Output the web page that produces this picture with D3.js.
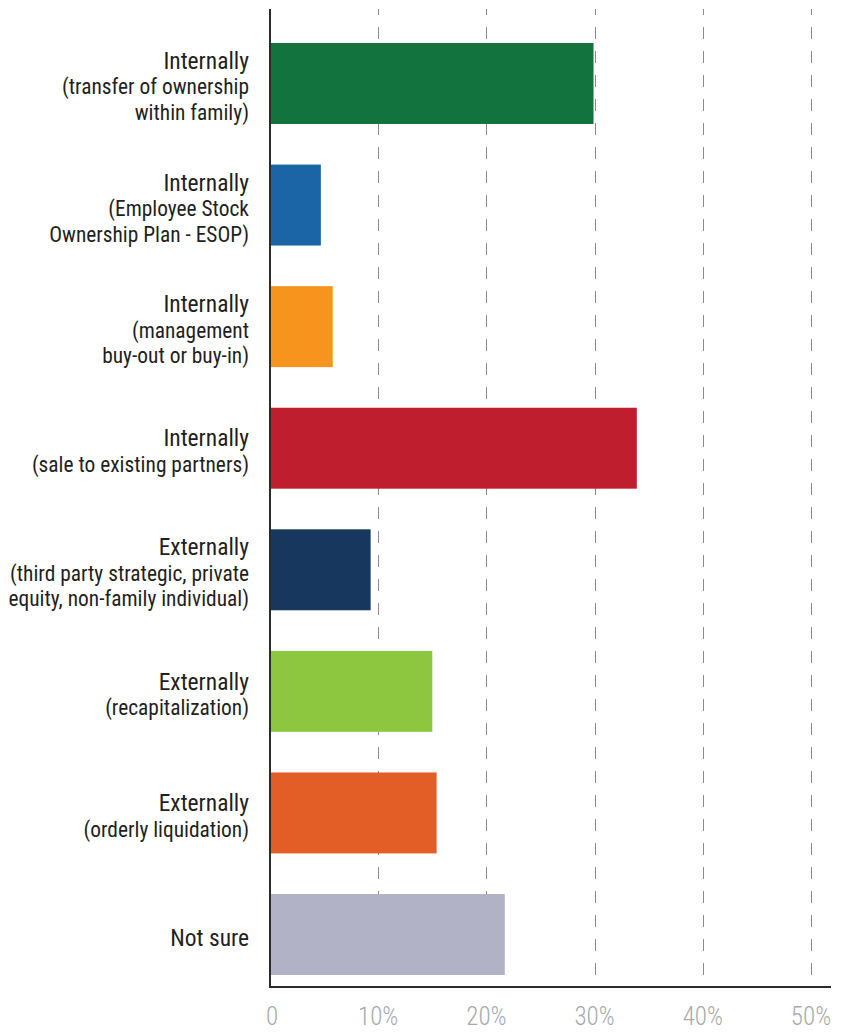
<!DOCTYPE html>
<html>
<head>
<meta charset="utf-8">
<script src="https://cdn.jsdelivr.net/npm/d3@7"></script>
<style>
  body { margin: 0; background: #fff; }
  svg text { font-family: "Roboto Condensed", "Roboto", sans-serif; }
</style>
</head>
<body>
<div id="chart"></div>
<script>
// categories (one entry per line of the label)
const labels = [
  ["Internally", "(transfer of ownership", "within family)"],
  ["Internally", "(Employee Stock", "Ownership Plan - ESOP)"],
  ["Internally", "(management", "buy-out or buy-in)"],
  ["Internally", "(sale to existing partners)"],
  ["Externally", "(third party strategic, private", "equity, non-family individual)"],
  ["Externally", "(recapitalization)"],
  ["Externally", "(orderly liquidation)"],
  ["Not sure"]
];
// share of respondents, %
const values = [29.9, 4.7, 5.8, 33.9, 9.3, 15.0, 15.4, 21.7];
const colors = ["#13733e", "#1b64a5", "#f7941e", "#be1e2d", "#17375e", "#8dc63f", "#e35d27", "#b1b2c6"];
const tickValues = [0, 10, 20, 30, 40, 50];

const width = 850, height = 1032;
const box = { left: 270, right: 811, top: 9, bottom: 987 };

const svg = d3.select("#chart")
  .append("svg")
  .attr("width", width)
  .attr("height", height);

const x = d3.scaleLinear()
  .domain([0, 50])
  .range([box.left, box.right]);

const y = d3.scaleBand()
  .domain(d3.range(values.length))
  .range([22.7, 995.3])
  .paddingInner(0.334)
  .paddingOuter(0.167);

// dashed grid lines
svg.append("g")
  .selectAll("line")
  .data(tickValues.slice(1))
  .join("line")
  .attr("x1", d => Math.round(x(d)) + 0.5)
  .attr("x2", d => Math.round(x(d)) + 0.5)
  .attr("y1", box.top)
  .attr("y2", box.bottom)
  .attr("stroke", "#8a8a8a")
  .attr("stroke-width", 1)
  .attr("stroke-dasharray", "12,12")
  .attr("stroke-dashoffset", 6);

// bars
svg.append("g")
  .selectAll("rect")
  .data(values)
  .join("rect")
  .attr("x", x(0))
  .attr("y", (d, i) => y(i))
  .attr("width", d => x(d) - x(0))
  .attr("height", y.bandwidth())
  .attr("fill", (d, i) => colors[i]);

// axis lines
svg.append("line")
  .attr("x1", box.left).attr("x2", box.left)
  .attr("y1", box.top).attr("y2", box.bottom + 1)
  .attr("stroke", "#2b2b2b").attr("stroke-width", 2);
svg.append("line")
  .attr("x1", box.left - 1).attr("x2", 831)
  .attr("y1", box.bottom).attr("y2", box.bottom)
  .attr("stroke", "#2b2b2b").attr("stroke-width", 2);

// tick labels
svg.append("g")
  .selectAll("text")
  .data(tickValues)
  .join("text")
  .attr("x", d => x(d) + (d === 0 ? 2 : 0))
  .attr("y", 1025)
  .attr("text-anchor", "middle")
  .attr("fill", "#a7a9ac")
  .style("font-size", "25px")
  .style("font-weight", 300)
  .text(d => d === 0 ? "0" : d + "%");

// category labels
const lineH = 25.5;
const lab = svg.append("g")
  .selectAll("text")
  .data(labels)
  .join("text")
  .attr("text-anchor", "end")
  .attr("fill", "#231f20");

lab.each(function (lines, i) {
  const c = y(i) + y.bandwidth() / 2;
  d3.select(this)
    .selectAll("tspan")
    .data(lines)
    .join("tspan")
    .attr("x", 249)
    .attr("y", (d, j) => c + (j - (lines.length - 1) / 2) * lineH + 11)
    .style("font-size", (d, j) => j === 0 ? "23.5px" : "21.4px")
    .text(d => d);
});
</script>
</body>
</html>
